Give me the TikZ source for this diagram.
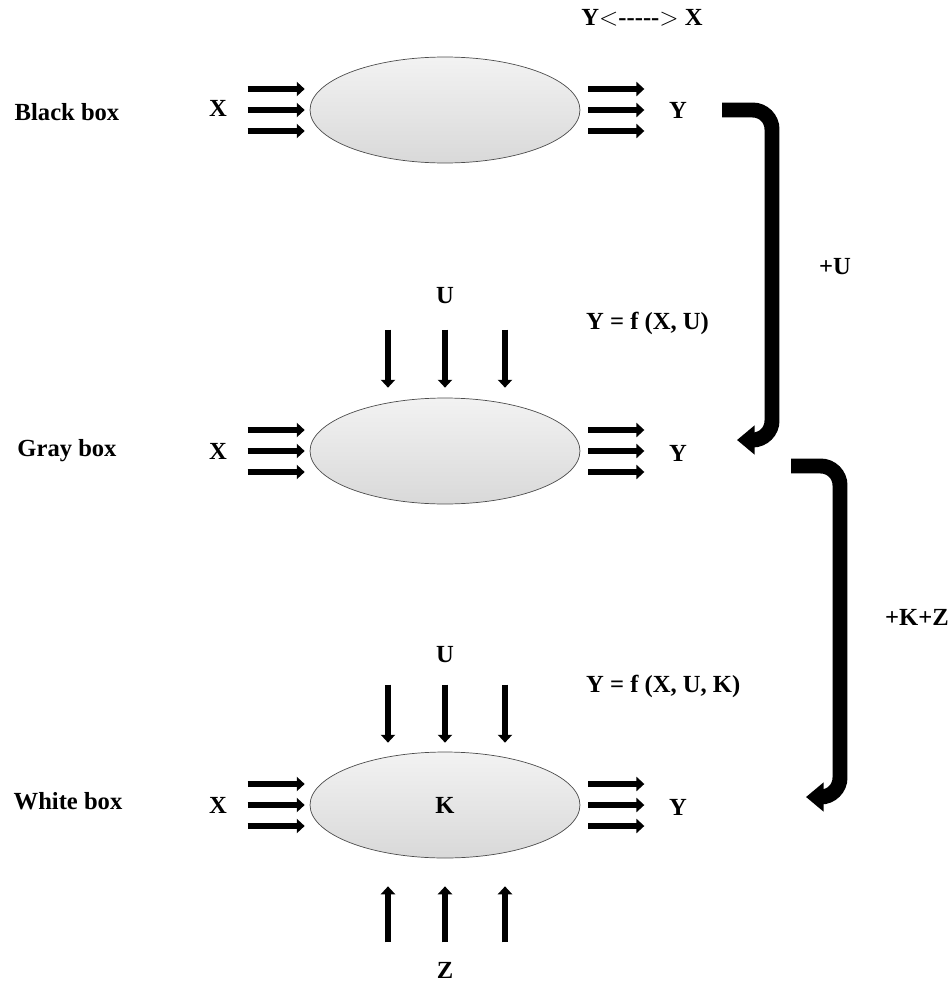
\documentclass[tikz,border=0pt]{standalone}
\usepackage[dvipsnames]{xcolor}
\usepackage{fontspec}
\setmainfont{Liberation Serif}
\usetikzlibrary{shapes.geometric,arrows.meta}
\begin{document}
\begin{tikzpicture}[x=0.02cm,y=-0.02cm]
						\tikzstyle{lbl}=[font=\fontsize{14}{16}\selectfont\bfseries]
						\tikzstyle{blob}=[ellipse,draw=black!70,top color=gray!10,bottom color=gray!30,minimum width=5.4cm,minimum height=2.12cm,inner sep=0pt,lbl]
						\tikzstyle{smallarrow}=[line width=3.8pt,-{Triangle[length=4.5pt,width=8pt]}]
						\tikzstyle{bigarrow}=[line width=8.5pt,rounded corners=11pt,-{Triangle[length=10pt,width=16pt]}]
						\useasboundingbox (0,0) rectangle (949,987);
						\node[lbl](t1) at (67,112) {Black box};
						\node[lbl](t2) at (67,451) {Gray box};
						\node[lbl](t3) at (68,801) {White box};
						\node[blob](e1) at (445,110) {};
						\node[blob](e2) at (445,451) {};
						\node[blob](e3) at (445,805) {K};
						\node[lbl](x1) at (218,108) {X};
						\node[lbl](x2) at (218,451) {X};
						\node[lbl](x3) at (218,805) {X};
						\node[lbl](y1) at (678,110) {Y};
						\node[lbl](y2) at (678,453) {Y};
						\node[lbl](y3) at (678,807) {Y};
						\node[lbl](yx) at (642,18) {Y$<$-{}-{}-{}-{}-$>$ X};
						\node[lbl](u2) at (445,296) {U};
						\node[lbl](u3) at (445,655) {U};
						\node[lbl](z3) at (445,970) {Z};
						\node[lbl,anchor=west](f2) at (580,323) {Y = f (X, U)};
						\node[lbl,anchor=west](f3) at (580,686) {Y = f (X, U, K)};
						\node[lbl](pu) at (835,267) {+U};
						\node[lbl](pkz) at (917,617) {+K+Z};
						\foreach \e in {e1,e2,e3}{
							\foreach \dy in {-21,0,21}{
								\draw[smallarrow]([shift={(-62,\dy)}]\e.west) -- ([shift={(-5,\dy)}]\e.west);
								\draw[smallarrow]([shift={(8,\dy)}]\e.east) -- ([shift={(64,\dy)}]\e.east);
							}
						}
						\foreach \dx in {-57,0,60}{
							\draw[smallarrow]([shift={(\dx,-68)}]e2.north) -- ([shift={(\dx,-10)}]e2.north);
							\draw[smallarrow]([shift={(\dx,-67)}]e3.north) -- ([shift={(\dx,-9)}]e3.north);
							\draw[smallarrow]([shift={(\dx,84)}]e3.south) -- ([shift={(\dx,28)}]e3.south);
						}
						\coordinate(a1) at (722,110);
						\coordinate(b1) at (737,440);
						\coordinate(a2) at (791,466);
						\coordinate(b2) at (806,797);
						\draw[bigarrow](a1) -- (772,110) -- (772,440) -- (b1);
						\draw[bigarrow](a2) -- (840,466) -- (840,797) -- (b2);
					\end{tikzpicture}
\end{document}
